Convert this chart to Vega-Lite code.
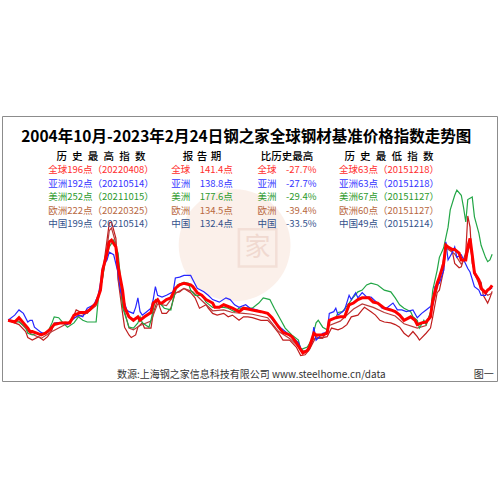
{
  "$schema": "https://vega.github.io/schema/vega-lite/v6.json",
  "autosize": "none",
  "width": 495,
  "height": 265,
  "padding": {"left": 2, "top": 116, "right": 3, "bottom": 119},
  "background": "#ffffff",
  "config": {"view": {"stroke": "#8c8c8c", "strokeWidth": 1}},
  "datasets": {
    "lines": [
      {"d":"2004-10","s":"欧洲","v":101},{"d":"2005-01","s":"欧洲","v":98},{"d":"2005-03","s":"欧洲","v":96},{"d":"2005-06","s":"欧洲","v":88},{"d":"2005-07","s":"欧洲","v":81},{"d":"2005-09","s":"欧洲","v":78},{"d":"2005-12","s":"欧洲","v":82},{"d":"2006-02","s":"欧洲","v":78},{"d":"2006-04","s":"欧洲","v":82},{"d":"2006-06","s":"欧洲","v":90},{"d":"2006-07","s":"欧洲","v":98},{"d":"2006-10","s":"欧洲","v":98},{"d":"2006-12","s":"欧洲","v":99},{"d":"2007-02","s":"欧洲","v":98},{"d":"2007-04","s":"欧洲","v":107},{"d":"2007-05","s":"欧洲","v":113},{"d":"2007-08","s":"欧洲","v":109},{"d":"2007-10","s":"欧洲","v":109},{"d":"2007-12","s":"欧洲","v":115},{"d":"2008-02","s":"欧洲","v":122},{"d":"2008-04","s":"欧洲","v":136},{"d":"2008-05","s":"欧洲","v":156},{"d":"2008-07","s":"欧洲","v":194},{"d":"2008-08","s":"欧洲","v":214},{"d":"2008-09","s":"欧洲","v":215},{"d":"2008-11","s":"欧洲","v":196},{"d":"2008-12","s":"欧洲","v":148},{"d":"2009-02","s":"欧洲","v":109},{"d":"2009-03","s":"欧洲","v":93},{"d":"2009-05","s":"欧洲","v":84},{"d":"2009-06","s":"欧洲","v":81},{"d":"2009-08","s":"欧洲","v":84},{"d":"2009-09","s":"欧洲","v":93},{"d":"2009-11","s":"欧洲","v":98},{"d":"2009-12","s":"欧洲","v":92},{"d":"2010-03","s":"欧洲","v":92},{"d":"2010-04","s":"欧洲","v":109},{"d":"2010-06","s":"欧洲","v":125},{"d":"2010-07","s":"欧洲","v":116},{"d":"2010-08","s":"欧洲","v":109},{"d":"2010-10","s":"欧洲","v":109},{"d":"2010-12","s":"欧洲","v":115},{"d":"2011-02","s":"欧洲","v":133},{"d":"2011-04","s":"欧洲","v":134},{"d":"2011-06","s":"欧洲","v":138},{"d":"2011-09","s":"欧洲","v":133},{"d":"2011-11","s":"欧洲","v":127},{"d":"2012-01","s":"欧洲","v":115},{"d":"2012-04","s":"欧洲","v":119},{"d":"2012-05","s":"欧洲","v":115},{"d":"2012-07","s":"欧洲","v":109},{"d":"2012-09","s":"欧洲","v":107},{"d":"2012-12","s":"欧洲","v":109},{"d":"2013-02","s":"欧洲","v":105},{"d":"2013-04","s":"欧洲","v":107},{"d":"2013-07","s":"欧洲","v":101},{"d":"2013-09","s":"欧洲","v":105},{"d":"2013-11","s":"欧洲","v":105},{"d":"2014-01","s":"欧洲","v":104},{"d":"2014-05","s":"欧洲","v":101},{"d":"2014-08","s":"欧洲","v":101},{"d":"2014-10","s":"欧洲","v":96},{"d":"2015-01","s":"欧洲","v":86},{"d":"2015-03","s":"欧洲","v":78},{"d":"2015-06","s":"欧洲","v":78},{"d":"2015-09","s":"欧洲","v":70},{"d":"2015-11","s":"欧洲","v":60},{"d":"2016-01","s":"欧洲","v":61},{"d":"2016-03","s":"欧洲","v":67},{"d":"2016-04","s":"欧洲","v":72},{"d":"2016-06","s":"欧洲","v":82},{"d":"2016-07","s":"欧洲","v":81},{"d":"2016-09","s":"欧洲","v":81},{"d":"2016-11","s":"欧洲","v":82},{"d":"2017-01","s":"欧洲","v":92},{"d":"2017-04","s":"欧洲","v":90},{"d":"2017-06","s":"欧洲","v":92},{"d":"2017-08","s":"欧洲","v":96},{"d":"2017-10","s":"欧洲","v":105},{"d":"2018-01","s":"欧洲","v":107},{"d":"2018-03","s":"欧洲","v":113},{"d":"2018-04","s":"欧洲","v":116},{"d":"2018-07","s":"欧洲","v":111},{"d":"2018-09","s":"欧洲","v":107},{"d":"2018-11","s":"欧洲","v":101},{"d":"2019-01","s":"欧洲","v":99},{"d":"2019-04","s":"欧洲","v":98},{"d":"2019-06","s":"欧洲","v":96},{"d":"2019-08","s":"欧洲","v":93},{"d":"2019-10","s":"欧洲","v":86},{"d":"2019-12","s":"欧洲","v":82},{"d":"2020-02","s":"欧洲","v":88},{"d":"2020-04","s":"欧洲","v":82},{"d":"2020-05","s":"欧洲","v":78},{"d":"2020-08","s":"欧洲","v":86},{"d":"2020-10","s":"欧洲","v":92},{"d":"2020-11","s":"欧洲","v":105},{"d":"2021-01","s":"欧洲","v":133},{"d":"2021-02","s":"欧洲","v":136},{"d":"2021-04","s":"欧洲","v":159},{"d":"2021-05","s":"欧洲","v":190},{"d":"2021-06","s":"欧洲","v":186},{"d":"2021-08","s":"欧洲","v":180},{"d":"2021-09","s":"欧洲","v":167},{"d":"2021-11","s":"欧洲","v":162},{"d":"2021-12","s":"欧洲","v":163},{"d":"2022-02","s":"欧洲","v":180},{"d":"2022-03","s":"欧洲","v":222},{"d":"2022-04","s":"欧洲","v":209},{"d":"2022-05","s":"欧洲","v":167},{"d":"2022-07","s":"欧洲","v":151},{"d":"2022-09","s":"欧洲","v":145},{"d":"2022-10","s":"欧洲","v":130},{"d":"2022-12","s":"欧洲","v":121},{"d":"2023-01","s":"欧洲","v":127},{"d":"2023-02","s":"欧洲","v":134.5},

      {"d":"2004-10","s":"中国","v":101},{"d":"2005-03","s":"中国","v":100},{"d":"2005-08","s":"中国","v":86},{"d":"2006-01","s":"中国","v":80},{"d":"2006-06","s":"中国","v":88},{"d":"2006-12","s":"中国","v":96},{"d":"2007-04","s":"中国","v":104},{"d":"2007-09","s":"中国","v":108},{"d":"2008-02","s":"中国","v":118},{"d":"2008-05","s":"中国","v":150},{"d":"2008-07","s":"中国","v":185},{"d":"2008-08","s":"中国","v":205},{"d":"2008-09","s":"中国","v":208},{"d":"2008-11","s":"中国","v":190},{"d":"2008-12","s":"中国","v":150},{"d":"2009-02","s":"中国","v":120},{"d":"2009-05","s":"中国","v":92},{"d":"2009-07","s":"中国","v":90},{"d":"2009-10","s":"中国","v":95},{"d":"2010-03","s":"中国","v":100},{"d":"2010-06","s":"中国","v":120},{"d":"2010-10","s":"中国","v":118},{"d":"2011-02","s":"中国","v":132},{"d":"2011-06","s":"中国","v":138},{"d":"2011-10","s":"中国","v":134},{"d":"2012-02","s":"中国","v":124},{"d":"2012-07","s":"中国","v":112},{"d":"2012-12","s":"中国","v":113},{"d":"2013-04","s":"中国","v":110},{"d":"2013-09","s":"中国","v":109},{"d":"2014-01","s":"中国","v":108},{"d":"2014-08","s":"中国","v":104},{"d":"2015-01","s":"中国","v":88},{"d":"2015-06","s":"中国","v":80},{"d":"2015-12","s":"中国","v":66},{"d":"2016-02","s":"中国","v":65},{"d":"2016-05","s":"中国","v":80},{"d":"2016-09","s":"中国","v":80},{"d":"2016-12","s":"中国","v":95},{"d":"2017-05","s":"中国","v":100},{"d":"2017-11","s":"中国","v":114},{"d":"2018-03","s":"中国","v":120},{"d":"2018-08","s":"中国","v":116},{"d":"2019-01","s":"中国","v":110},{"d":"2019-06","s":"中国","v":106},{"d":"2019-10","s":"中国","v":97},{"d":"2020-04","s":"中国","v":92},{"d":"2020-08","s":"中国","v":95},{"d":"2020-11","s":"中国","v":118},{"d":"2021-02","s":"中国","v":148},{"d":"2021-05","s":"中国","v":185},{"d":"2021-09","s":"中国","v":178},{"d":"2021-12","s":"中国","v":166},{"d":"2022-03","s":"中国","v":180},{"d":"2022-04","s":"中国","v":188},{"d":"2022-06","s":"中国","v":155},{"d":"2022-09","s":"中国","v":138},{"d":"2022-12","s":"中国","v":130},{"d":"2023-02","s":"中国","v":132.4},

      {"d":"2004-10","s":"美洲","v":101},{"d":"2005-01","s":"美洲","v":99},{"d":"2005-03","s":"美洲","v":99},{"d":"2005-06","s":"美洲","v":93},{"d":"2005-07","s":"美洲","v":86},{"d":"2005-09","s":"美洲","v":84},{"d":"2005-11","s":"美洲","v":86},{"d":"2006-01","s":"美洲","v":84},{"d":"2006-04","s":"美洲","v":87},{"d":"2006-06","s":"美洲","v":98},{"d":"2006-07","s":"美洲","v":105},{"d":"2006-09","s":"美洲","v":104},{"d":"2006-11","s":"美洲","v":98},{"d":"2007-01","s":"美洲","v":93},{"d":"2007-04","s":"美洲","v":98},{"d":"2007-06","s":"美洲","v":105},{"d":"2007-08","s":"美洲","v":101},{"d":"2007-10","s":"美洲","v":99},{"d":"2008-02","s":"美洲","v":99},{"d":"2008-03","s":"美洲","v":125},{"d":"2008-05","s":"美洲","v":151},{"d":"2008-06","s":"美洲","v":167},{"d":"2008-08","s":"美洲","v":186},{"d":"2008-10","s":"美洲","v":194},{"d":"2008-12","s":"美洲","v":179},{"d":"2009-01","s":"美洲","v":151},{"d":"2009-02","s":"美洲","v":116},{"d":"2009-04","s":"美洲","v":101},{"d":"2009-05","s":"美洲","v":93},{"d":"2009-07","s":"美洲","v":92},{"d":"2009-09","s":"美洲","v":98},{"d":"2009-10","s":"美洲","v":105},{"d":"2009-11","s":"美洲","v":98},{"d":"2010-02","s":"美洲","v":93},{"d":"2010-03","s":"美洲","v":101},{"d":"2010-05","s":"美洲","v":125},{"d":"2010-07","s":"美洲","v":121},{"d":"2010-09","s":"美洲","v":115},{"d":"2010-12","s":"美洲","v":113},{"d":"2011-01","s":"美洲","v":125},{"d":"2011-03","s":"美洲","v":142},{"d":"2011-06","s":"美洲","v":145},{"d":"2011-08","s":"美洲","v":144},{"d":"2011-09","s":"美洲","v":136},{"d":"2011-11","s":"美洲","v":130},{"d":"2012-02","s":"美洲","v":130},{"d":"2012-04","s":"美洲","v":122},{"d":"2012-07","s":"美洲","v":116},{"d":"2012-09","s":"美洲","v":116},{"d":"2012-12","s":"美洲","v":116},{"d":"2013-02","s":"美洲","v":115},{"d":"2013-05","s":"美洲","v":111},{"d":"2013-07","s":"美洲","v":115},{"d":"2013-11","s":"美洲","v":115},{"d":"2014-01","s":"美洲","v":115},{"d":"2014-04","s":"美洲","v":121},{"d":"2014-06","s":"美洲","v":127},{"d":"2014-09","s":"美洲","v":125},{"d":"2014-11","s":"美洲","v":115},{"d":"2015-02","s":"美洲","v":101},{"d":"2015-04","s":"美洲","v":92},{"d":"2015-07","s":"美洲","v":84},{"d":"2015-10","s":"美洲","v":78},{"d":"2015-11","s":"美洲","v":67},{"d":"2016-02","s":"美洲","v":70},{"d":"2016-04","s":"美洲","v":78},{"d":"2016-06","s":"美洲","v":98},{"d":"2016-07","s":"美洲","v":101},{"d":"2016-09","s":"美洲","v":93},{"d":"2016-11","s":"美洲","v":90},{"d":"2016-12","s":"美洲","v":101},{"d":"2017-03","s":"美洲","v":104},{"d":"2017-04","s":"美洲","v":110},{"d":"2017-06","s":"美洲","v":111},{"d":"2017-09","s":"美洲","v":121},{"d":"2017-11","s":"美洲","v":128},{"d":"2018-01","s":"美洲","v":134},{"d":"2018-03","s":"美洲","v":136},{"d":"2018-05","s":"美洲","v":142},{"d":"2018-07","s":"美洲","v":144},{"d":"2018-10","s":"美洲","v":142},{"d":"2019-01","s":"美洲","v":136},{"d":"2019-04","s":"美洲","v":134},{"d":"2019-06","s":"美洲","v":127},{"d":"2019-08","s":"美洲","v":119},{"d":"2019-10","s":"美洲","v":115},{"d":"2020-01","s":"美洲","v":111},{"d":"2020-02","s":"美洲","v":105},{"d":"2020-04","s":"美洲","v":101},{"d":"2020-05","s":"美洲","v":92},{"d":"2020-07","s":"美洲","v":101},{"d":"2020-08","s":"美洲","v":96},{"d":"2020-10","s":"美洲","v":110},{"d":"2020-11","s":"美洲","v":136},{"d":"2021-01","s":"美洲","v":159},{"d":"2021-02","s":"美洲","v":174},{"d":"2021-04","s":"美洲","v":185},{"d":"2021-06","s":"美洲","v":209},{"d":"2021-07","s":"美洲","v":229},{"d":"2021-09","s":"美洲","v":246},{"d":"2021-10","s":"美洲","v":252},{"d":"2021-12","s":"美洲","v":246},{"d":"2022-01","s":"美洲","v":232},{"d":"2022-02","s":"美洲","v":215},{"d":"2022-03","s":"美洲","v":241},{"d":"2022-05","s":"美洲","v":244},{"d":"2022-06","s":"美洲","v":221},{"d":"2022-08","s":"美洲","v":202},{"d":"2022-09","s":"美洲","v":188},{"d":"2022-11","s":"美洲","v":174},{"d":"2022-12","s":"美洲","v":169},{"d":"2023-01","s":"美洲","v":171},{"d":"2023-02","s":"美洲","v":177.6},

      {"d":"2004-10","s":"亚洲","v":101},{"d":"2005-01","s":"亚洲","v":107},{"d":"2005-03","s":"亚洲","v":113},{"d":"2005-05","s":"亚洲","v":109},{"d":"2005-07","s":"亚洲","v":99},{"d":"2005-08","s":"亚洲","v":101},{"d":"2005-09","s":"亚洲","v":101},{"d":"2005-10","s":"亚洲","v":93},{"d":"2006-01","s":"亚洲","v":87},{"d":"2006-02","s":"亚洲","v":86},{"d":"2006-04","s":"亚洲","v":87},{"d":"2006-06","s":"亚洲","v":93},{"d":"2006-08","s":"亚洲","v":98},{"d":"2006-11","s":"亚洲","v":98},{"d":"2007-01","s":"亚洲","v":96},{"d":"2007-03","s":"亚洲","v":101},{"d":"2007-06","s":"亚洲","v":107},{"d":"2007-08","s":"亚洲","v":105},{"d":"2007-10","s":"亚洲","v":115},{"d":"2008-01","s":"亚洲","v":119},{"d":"2008-03","s":"亚洲","v":130},{"d":"2008-04","s":"亚洲","v":144},{"d":"2008-05","s":"亚洲","v":163},{"d":"2008-07","s":"亚洲","v":171},{"d":"2008-08","s":"亚洲","v":180},{"d":"2008-10","s":"亚洲","v":177},{"d":"2008-12","s":"亚洲","v":156},{"d":"2009-01","s":"亚洲","v":136},{"d":"2009-02","s":"亚洲","v":128},{"d":"2009-04","s":"亚洲","v":113},{"d":"2009-05","s":"亚洲","v":111},{"d":"2009-07","s":"亚洲","v":109},{"d":"2009-08","s":"亚洲","v":116},{"d":"2009-09","s":"亚洲","v":127},{"d":"2009-10","s":"亚洲","v":111},{"d":"2009-11","s":"亚洲","v":107},{"d":"2010-01","s":"亚洲","v":111},{"d":"2010-03","s":"亚洲","v":115},{"d":"2010-04","s":"亚洲","v":125},{"d":"2010-05","s":"亚洲","v":140},{"d":"2010-06","s":"亚洲","v":130},{"d":"2010-08","s":"亚洲","v":128},{"d":"2010-10","s":"亚洲","v":130},{"d":"2011-01","s":"亚洲","v":134},{"d":"2011-02","s":"亚洲","v":150},{"d":"2011-04","s":"亚洲","v":151},{"d":"2011-06","s":"亚洲","v":153},{"d":"2011-09","s":"亚洲","v":153},{"d":"2011-10","s":"亚洲","v":148},{"d":"2011-12","s":"亚洲","v":138},{"d":"2012-03","s":"亚洲","v":134},{"d":"2012-05","s":"亚洲","v":130},{"d":"2012-07","s":"亚洲","v":125},{"d":"2012-10","s":"亚洲","v":122},{"d":"2013-01","s":"亚洲","v":127},{"d":"2013-03","s":"亚洲","v":125},{"d":"2013-05","s":"亚洲","v":119},{"d":"2013-07","s":"亚洲","v":116},{"d":"2013-10","s":"亚洲","v":119},{"d":"2013-12","s":"亚洲","v":115},{"d":"2014-03","s":"亚洲","v":113},{"d":"2014-05","s":"亚洲","v":111},{"d":"2014-08","s":"亚洲","v":109},{"d":"2014-11","s":"亚洲","v":99},{"d":"2015-02","s":"亚洲","v":92},{"d":"2015-05","s":"亚洲","v":86},{"d":"2015-07","s":"亚洲","v":82},{"d":"2015-10","s":"亚洲","v":75},{"d":"2015-12","s":"亚洲","v":63},{"d":"2016-02","s":"亚洲","v":67},{"d":"2016-04","s":"亚洲","v":75},{"d":"2016-05","s":"亚洲","v":93},{"d":"2016-06","s":"亚洲","v":78},{"d":"2016-09","s":"亚洲","v":86},{"d":"2016-11","s":"亚洲","v":87},{"d":"2016-12","s":"亚洲","v":109},{"d":"2017-02","s":"亚洲","v":111},{"d":"2017-03","s":"亚洲","v":115},{"d":"2017-04","s":"亚洲","v":107},{"d":"2017-06","s":"亚洲","v":111},{"d":"2017-07","s":"亚洲","v":113},{"d":"2017-09","s":"亚洲","v":130},{"d":"2017-10","s":"亚洲","v":125},{"d":"2017-12","s":"亚洲","v":133},{"d":"2018-01","s":"亚洲","v":127},{"d":"2018-03","s":"亚洲","v":133},{"d":"2018-05","s":"亚洲","v":128},{"d":"2018-07","s":"亚洲","v":128},{"d":"2018-10","s":"亚洲","v":121},{"d":"2018-12","s":"亚洲","v":115},{"d":"2019-02","s":"亚洲","v":115},{"d":"2019-05","s":"亚洲","v":121},{"d":"2019-07","s":"亚洲","v":113},{"d":"2019-09","s":"亚洲","v":113},{"d":"2019-11","s":"亚洲","v":111},{"d":"2020-02","s":"亚洲","v":113},{"d":"2020-04","s":"亚洲","v":104},{"d":"2020-06","s":"亚洲","v":109},{"d":"2020-08","s":"亚洲","v":113},{"d":"2020-11","s":"亚洲","v":119},{"d":"2020-12","s":"亚洲","v":140},{"d":"2021-02","s":"亚洲","v":144},{"d":"2021-04","s":"亚洲","v":159},{"d":"2021-05","s":"亚洲","v":192},{"d":"2021-06","s":"亚洲","v":171},{"d":"2021-08","s":"亚洲","v":180},{"d":"2021-09","s":"亚洲","v":186},{"d":"2021-10","s":"亚洲","v":174},{"d":"2021-12","s":"亚洲","v":177},{"d":"2022-03","s":"亚洲","v":161},{"d":"2022-04","s":"亚洲","v":157},{"d":"2022-06","s":"亚洲","v":140},{"d":"2022-08","s":"亚洲","v":136},{"d":"2022-09","s":"亚洲","v":130},{"d":"2022-11","s":"亚洲","v":130},{"d":"2022-12","s":"亚洲","v":136},{"d":"2023-01","s":"亚洲","v":137},{"d":"2023-02","s":"亚洲","v":138.8},

      {"d":"2004-10","s":"全球","v":101},{"d":"2005-01","s":"全球","v":99},{"d":"2005-03","s":"全球","v":104},{"d":"2005-05","s":"全球","v":98},{"d":"2005-07","s":"全球","v":92},{"d":"2005-08","s":"全球","v":88},{"d":"2005-09","s":"全球","v":88},{"d":"2005-11","s":"全球","v":86},{"d":"2006-01","s":"全球","v":84},{"d":"2006-03","s":"全球","v":86},{"d":"2006-05","s":"全球","v":90},{"d":"2006-07","s":"全球","v":96},{"d":"2006-10","s":"全球","v":98},{"d":"2006-12","s":"全球","v":98},{"d":"2007-02","s":"全球","v":98},{"d":"2007-04","s":"全球","v":107},{"d":"2007-07","s":"全球","v":110},{"d":"2007-09","s":"全球","v":110},{"d":"2007-11","s":"全球","v":113},{"d":"2008-02","s":"全球","v":121},{"d":"2008-04","s":"全球","v":136},{"d":"2008-05","s":"全球","v":159},{"d":"2008-07","s":"全球","v":179},{"d":"2008-08","s":"全球","v":192},{"d":"2008-09","s":"全球","v":194},{"d":"2008-11","s":"全球","v":186},{"d":"2008-12","s":"全球","v":163},{"d":"2009-02","s":"全球","v":136},{"d":"2009-03","s":"全球","v":116},{"d":"2009-05","s":"全球","v":105},{"d":"2009-07","s":"全球","v":101},{"d":"2009-09","s":"全球","v":105},{"d":"2009-10","s":"全球","v":101},{"d":"2009-12","s":"全球","v":105},{"d":"2010-03","s":"全球","v":110},{"d":"2010-04","s":"全球","v":121},{"d":"2010-06","s":"全球","v":125},{"d":"2010-07","s":"全球","v":121},{"d":"2010-08","s":"全球","v":121},{"d":"2010-10","s":"全球","v":125},{"d":"2010-12","s":"全球","v":127},{"d":"2011-02","s":"全球","v":138},{"d":"2011-04","s":"全球","v":142},{"d":"2011-06","s":"全球","v":144},{"d":"2011-09","s":"全球","v":142},{"d":"2011-10","s":"全球","v":140},{"d":"2011-12","s":"全球","v":133},{"d":"2012-02","s":"全球","v":130},{"d":"2012-04","s":"全球","v":125},{"d":"2012-07","s":"全球","v":121},{"d":"2012-08","s":"全球","v":116},{"d":"2012-10","s":"全球","v":116},{"d":"2012-12","s":"全球","v":119},{"d":"2013-02","s":"全球","v":117},{"d":"2013-04","s":"全球","v":115},{"d":"2013-07","s":"全球","v":111},{"d":"2013-09","s":"全球","v":115},{"d":"2013-11","s":"全球","v":114},{"d":"2014-01","s":"全球","v":113},{"d":"2014-05","s":"全球","v":111},{"d":"2014-08","s":"全球","v":109},{"d":"2014-10","s":"全球","v":104},{"d":"2015-01","s":"全球","v":93},{"d":"2015-03","s":"全球","v":87},{"d":"2015-06","s":"全球","v":84},{"d":"2015-07","s":"全球","v":82},{"d":"2015-09","s":"全球","v":75},{"d":"2015-12","s":"全球","v":63},{"d":"2016-02","s":"全球","v":66},{"d":"2016-03","s":"全球","v":70},{"d":"2016-05","s":"全球","v":86},{"d":"2016-06","s":"全球","v":84},{"d":"2016-09","s":"全球","v":84},{"d":"2016-11","s":"全球","v":86},{"d":"2016-12","s":"全球","v":101},{"d":"2017-03","s":"全球","v":104},{"d":"2017-05","s":"全球","v":105},{"d":"2017-07","s":"全球","v":105},{"d":"2017-09","s":"全球","v":119},{"d":"2017-11","s":"全球","v":121},{"d":"2018-01","s":"全球","v":125},{"d":"2018-03","s":"全球","v":127},{"d":"2018-06","s":"全球","v":127},{"d":"2018-08","s":"全球","v":122},{"d":"2018-10","s":"全球","v":121},{"d":"2019-01","s":"全球","v":115},{"d":"2019-04","s":"全球","v":113},{"d":"2019-06","s":"全球","v":111},{"d":"2019-08","s":"全球","v":107},{"d":"2019-10","s":"全球","v":101},{"d":"2020-01","s":"全球","v":105},{"d":"2020-03","s":"全球","v":101},{"d":"2020-04","s":"全球","v":96},{"d":"2020-06","s":"全球","v":98},{"d":"2020-08","s":"全球","v":99},{"d":"2020-10","s":"全球","v":105},{"d":"2020-11","s":"全球","v":124},{"d":"2021-01","s":"全球","v":144},{"d":"2021-02","s":"全球","v":151},{"d":"2021-04","s":"全球","v":167},{"d":"2021-05","s":"全球","v":188},{"d":"2021-06","s":"全球","v":186},{"d":"2021-08","s":"全球","v":183},{"d":"2021-09","s":"全球","v":183},{"d":"2021-11","s":"全球","v":179},{"d":"2021-12","s":"全球","v":171},{"d":"2022-02","s":"全球","v":171},{"d":"2022-03","s":"全球","v":186},{"d":"2022-04","s":"全球","v":196},{"d":"2022-05","s":"全球","v":177},{"d":"2022-06","s":"全球","v":156},{"d":"2022-08","s":"全球","v":148},{"d":"2022-09","s":"全球","v":138},{"d":"2022-11","s":"全球","v":133},{"d":"2022-12","s":"全球","v":136},{"d":"2023-01","s":"全球","v":138},{"d":"2023-02","s":"全球","v":141.4}
    ],
    "cells": [
      {"row":1,"col":1,"region":"全球","text":"全球196点（20220408）"},{"row":1,"col":2,"region":"全球","text":"全球　141.4点"},{"row":1,"col":3,"region":"全球","text":"全球　-27.7%"},{"row":1,"col":4,"region":"全球","text":"全球63点（20151218）"},
      {"row":2,"col":1,"region":"亚洲","text":"亚洲192点（20210514）"},{"row":2,"col":2,"region":"亚洲","text":"亚洲　138.8点"},{"row":2,"col":3,"region":"亚洲","text":"亚洲　-27.7%"},{"row":2,"col":4,"region":"亚洲","text":"亚洲63点（20151218）"},
      {"row":3,"col":1,"region":"美洲","text":"美洲252点（20211015）"},{"row":3,"col":2,"region":"美洲","text":"美洲　177.6点"},{"row":3,"col":3,"region":"美洲","text":"美洲　-29.4%"},{"row":3,"col":4,"region":"美洲","text":"美洲67点（20151127）"},
      {"row":4,"col":1,"region":"欧洲","text":"欧洲222点（20220325）"},{"row":4,"col":2,"region":"欧洲","text":"欧洲　134.5点"},{"row":4,"col":3,"region":"欧洲","text":"欧洲　-39.4%"},{"row":4,"col":4,"region":"欧洲","text":"欧洲60点（20151127）"},
      {"row":5,"col":1,"region":"中国","text":"中国199点（20210514）"},{"row":5,"col":2,"region":"中国","text":"中国　132.4点"},{"row":5,"col":3,"region":"中国","text":"中国　-33.5%"},{"row":5,"col":4,"region":"中国","text":"中国49点（20151214）"}
    ],
    "labels": [
      {"kind":"title","row":-1.5,"col":2.52,"text":"2004年10月-2023年2月24日钢之家全球钢材基准价格指数走势图"},
      {"kind":"head","row":0,"col":1,"text":"历\u2002史\u2002最\u2002高\u2002指\u2002数"},
      {"kind":"head","row":0,"col":2,"text":"报\u2004告\u2004期"},
      {"kind":"head","row":0,"col":3,"text":"比历史最高"},
      {"kind":"head","row":0,"col":4,"text":"历\u2002史\u2002最\u2002低\u2002指\u2002数"},
      {"kind":"foot","row":16.27,"col":2.58,"text":"数源:上海钢之家信息科技有限公司 www.steelhome.cn/data"},
      {"kind":"foot","row":16.27,"col":4.93,"text":"图一"}
    ],
    "marks": [{"d": "2013-05-01", "v": 188, "logo": "家", "ld": "2014-03-15", "lv": 185}]
  },
  "layer": [
    {
      "data": {"name": "marks"},
      "mark": {"type": "point", "filled": true, "shape": "circle", "color": "#FBEEE8", "opacity": 0.9, "size": 12500},
      "encoding": {
        "x": {"field": "d", "type": "temporal", "scale": {"domain": ["2004-07-09", "2023-04-09"]}, "axis": null},
        "y": {"field": "v", "type": "quantitative", "scale": {"domain": [30.6, 337.9], "nice": false, "zero": false}, "axis": null}
      }
    },
    {
      "data": {"name": "marks"},
      "mark": {"type": "point", "filled": false, "shape": "square", "stroke": "#F0D9D0", "strokeWidth": 2.5, "size": 1400},
      "encoding": {
        "x": {"field": "ld", "type": "temporal", "scale": {"domain": ["2004-07-09", "2023-04-09"]}, "axis": null},
        "y": {"field": "lv", "type": "quantitative", "scale": {"domain": [30.6, 337.9], "nice": false, "zero": false}, "axis": null}
      }
    },
    {
      "data": {"name": "marks"},
      "mark": {"type": "text", "font": "Noto Sans CJK SC", "fontSize": 26, "color": "#F0D9D0", "baseline": "middle", "align": "center"},
      "encoding": {
        "x": {"field": "ld", "type": "temporal", "scale": {"domain": ["2004-07-09", "2023-04-09"]}, "axis": null},
        "y": {"field": "lv", "type": "quantitative", "scale": {"domain": [30.6, 337.9], "nice": false, "zero": false}, "axis": null},
        "text": {"field": "logo"}
      }
    },
    {
      "data": {"name": "lines"},
      "transform": [{"filter": "datum.s !== '全球'"}],
      "mark": {"type": "line", "strokeWidth": 1.2},
      "encoding": {
        "x": {"field": "d", "type": "temporal", "scale": {"domain": ["2004-07-09", "2023-04-09"]}, "axis": null},
        "y": {"field": "v", "type": "quantitative", "scale": {"domain": [30.6, 337.9], "nice": false, "zero": false}, "axis": null},
        "color": {"field": "s", "type": "nominal", "legend": null,
          "scale": {"domain": ["全球", "亚洲", "美洲", "欧洲", "中国"], "range": ["#FF0000", "#2626FF", "#22A646", "#C01E1E", "#B93A3A"]}}
      }
    },
    {
      "data": {"name": "lines"},
      "transform": [{"filter": "datum.s === '全球'"}],
      "mark": {"type": "line", "strokeWidth": 3, "color": "#FF0000"},
      "encoding": {
        "x": {"field": "d", "type": "temporal", "scale": {"domain": ["2004-07-09", "2023-04-09"]}, "axis": null},
        "y": {"field": "v", "type": "quantitative", "scale": {"domain": [30.6, 337.9], "nice": false, "zero": false}, "axis": null}
      }
    },
    {
      "data": {"name": "labels"},
      "transform": [{"filter": "datum.kind === 'title'"}],
      "mark": {"type": "text", "font": "Noto Sans CJK SC", "fontSize": 15.5, "fontWeight": "bold", "color": "#000000", "baseline": "middle", "align": "center"},
      "encoding": {
        "x": {"field": "col", "type": "quantitative", "axis": null, "scale": {"domain": [1, 2, 3, 4], "range": [99, 200, 285, 387], "nice": false, "zero": false}},
        "y": {"field": "row", "type": "quantitative", "axis": null, "scale": {"domain": [0, 5], "range": [41, 108], "nice": false, "zero": false}},
        "text": {"field": "text"}
      }
    },
    {
      "data": {"name": "labels"},
      "transform": [{"filter": "datum.kind === 'head'"}],
      "mark": {"type": "text", "font": "Noto Sans CJK SC", "fontSize": 10.5, "fontWeight": 500, "color": "#000000", "baseline": "middle", "align": "center"},
      "encoding": {
        "x": {"field": "col", "type": "quantitative", "axis": null, "scale": {"domain": [1, 2, 3, 4], "range": [99, 200, 285, 387], "nice": false, "zero": false}},
        "y": {"field": "row", "type": "quantitative", "axis": null, "scale": {"domain": [0, 5], "range": [41, 108], "nice": false, "zero": false}},
        "text": {"field": "text"}
      }
    },
    {
      "data": {"name": "cells"},
      "mark": {"type": "text", "font": "Noto Sans CJK SC", "fontSize": 9.5, "baseline": "middle", "align": "center"},
      "encoding": {
        "x": {"field": "col", "type": "quantitative", "axis": null, "scale": {"domain": [1, 2, 3, 4], "range": [99, 200, 285, 387], "nice": false, "zero": false}},
        "y": {"field": "row", "type": "quantitative", "axis": null, "scale": {"domain": [0, 5], "range": [41, 108], "nice": false, "zero": false}},
        "text": {"field": "text"},
        "color": {"field": "region", "type": "nominal", "legend": null,
          "scale": {"domain": ["全球", "亚洲", "美洲", "欧洲", "中国"], "range": ["#FF2E2E", "#3636FF", "#2E9A2E", "#B8683F", "#34528C"]}}
      }
    },
    {
      "data": {"name": "labels"},
      "transform": [{"filter": "datum.kind === 'foot'"}],
      "mark": {"type": "text", "font": "Noto Sans CJK SC", "fontSize": 10, "color": "#333333", "baseline": "middle", "align": "center"},
      "encoding": {
        "x": {"field": "col", "type": "quantitative", "axis": null, "scale": {"domain": [1, 2, 3, 4], "range": [99, 200, 285, 387], "nice": false, "zero": false}},
        "y": {"field": "row", "type": "quantitative", "axis": null, "scale": {"domain": [0, 5], "range": [41, 108], "nice": false, "zero": false}},
        "text": {"field": "text"}
      }
    }
  ],
  "resolve": {"scale": {"x": "independent", "y": "independent", "color": "independent"}}
}
